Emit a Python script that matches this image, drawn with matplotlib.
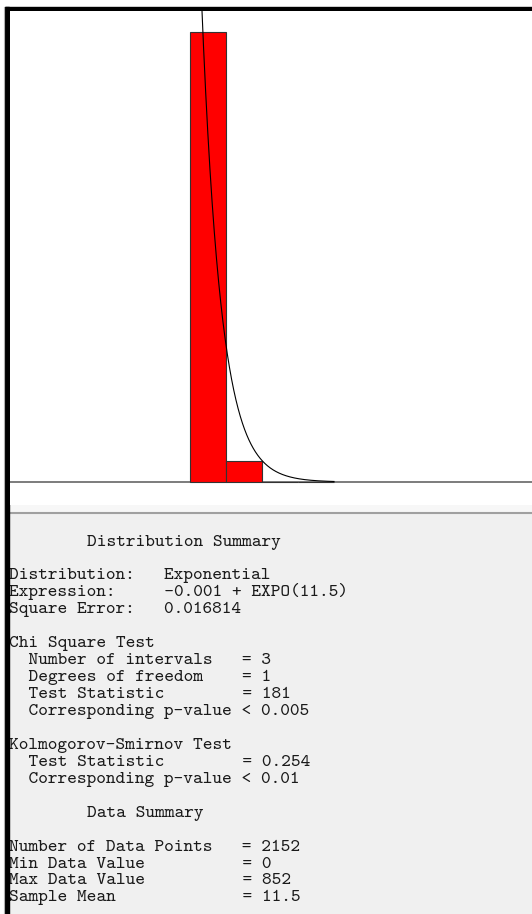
import matplotlib
matplotlib.use('Agg')
import matplotlib.pyplot as plt
import numpy as np
from matplotlib.patches import Rectangle

# histogram: relative frequency per interval (40 intervals over 0..852, only first few non-empty)
bin_width = 852 / 40
rel_freq = [0.955, 0.0446, 0.0009, 0.0005]
bin_left = [i * bin_width for i in range(len(rel_freq))]

# fitted distribution: -0.001 + EXPO(11.5)
fit_offset = -0.001
fit_mean = 11.5

summary_lines = [
    "        Distribution Summary",
    "",
    "Distribution:   Exponential",
    "Expression:     -0.001 + EXPO(11.5)",
    "Square Error:   0.016814",
    "",
    "Chi Square Test",
    "  Number of intervals   = 3",
    "  Degrees of freedom    = 1",
    "  Test Statistic        = 181",
    "  Corresponding p-value < 0.005",
    "",
    "Kolmogorov-Smirnov Test",
    "  Test Statistic        = 0.254",
    "  Corresponding p-value < 0.01",
    "",
    "        Data Summary",
    "",
    "Number of Data Points   = 2152",
    "Min Data Value          = 0",
    "Max Data Value          = 852",
    "Sample Mean             = 11.5",
]

W, H = 532, 914
fig = plt.figure(figsize=(W / 100, H / 100), dpi=100)
fig.patch.set_facecolor('#F0F0F0')

# background layer in pixel coordinates
bg = fig.add_axes([0, 0, 1, 1])
bg.set_xlim(0, W)
bg.set_ylim(H, 0)
bg.axis('off')
bg.add_patch(Rectangle((0, 0), W, 505, color='white', zorder=0))
bg.add_patch(Rectangle((0, 505), W, 6.5, color='#F7F7F7', zorder=0))
bg.plot([9, W], [512.8, 512.8], color='#A0A0A0', lw=1.5, zorder=1)

for i, line in enumerate(summary_lines):
    bg.text(8.8, 545.5 + 16.95 * i, line, family=['cmtt10', 'DejaVu Sans Mono'],
            fontsize=13.3, color='#1a1a1a', va='baseline', ha='left', zorder=3)

# window frame
bg.add_patch(Rectangle((0, 0), 4.5, H, color='white', zorder=5))
bg.add_patch(Rectangle((5, 6.8), W - 5, 3.9, color='black', zorder=5))
bg.add_patch(Rectangle((5, 6.8), 4.3, H - 6.8, color='black', zorder=5))
bg.plot([4.4, 4.4], [6.8, H], color='#B0B0B0', lw=0.8, zorder=5)

# histogram plot
ax = fig.add_axes([10 / W, (H - 505) / H, (W - 10) / W, (505 - 10.7) / H])
ax.set_facecolor('white')
ax.set_xlim(-5 * bin_width, 9.5 * bin_width)
ax.set_ylim(-23 / 471.3, 1.0)
for s in ax.spines.values():
    s.set_visible(False)
ax.set_xticks([])
ax.set_yticks([])

ax.axhline(0, color='#666666', lw=1.2, zorder=1)
ax.bar(bin_left, rel_freq, width=bin_width, align='edge', color='#FF0000',
       edgecolor='#333333', linewidth=0.8, zorder=2)

xs = np.linspace(fit_offset, 4 * bin_width, 600)
ys = bin_width / fit_mean * np.exp(-(xs - fit_offset) / fit_mean)
ax.plot(xs, ys, color='black', lw=0.8, zorder=3)

fig.savefig('out.png', dpi=100)
